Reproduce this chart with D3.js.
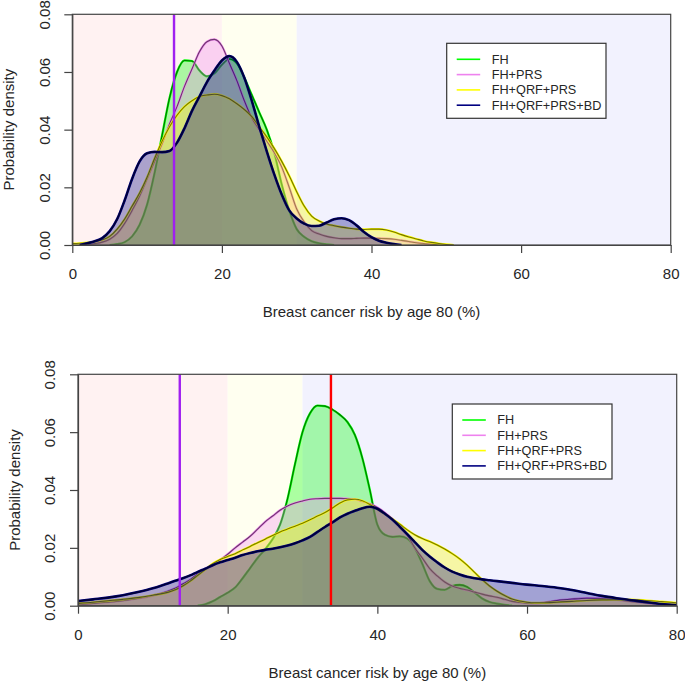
<!DOCTYPE html>
<html><head><meta charset="utf-8">
<script src="https://cdn.jsdelivr.net/npm/d3@7/dist/d3.min.js"></script>
<style>body{margin:0;background:#fff}svg{display:block}text{font-family:"Liberation Sans",Arial,sans-serif;fill:#262626}</style>
</head><body><svg id="c" width="685" height="681"></svg>
<script>
// ---------- data ----------
const seriesNames = ["FH","FH+PRS","FH+QRF+PRS","FH+QRF+PRS+BD"];
const seriesColors = ["#00FF00","#EE82EE","#FFFF00","#000080"];
const xTicks = [0,20,40,60,80];
const yTicks = [0,0.02,0.04,0.06,0.08];
const bands = [[0,20],[20,30],[30,80]];
const bandColors = ["#FFF2F2","#FFFFF0","#F2F2FE"];
const topVLines = [13.6];
const bottomVLines = [13.6, 33.8];
const vLineColors = ["#A020F0","#FF0000"];

const topFH = [[5,0],[6,0.0003],[7,0.001],[8,0.003],[9,0.007],[10,0.014],[11,0.025],[12,0.038],[13,0.051],[14,0.060],[15,0.064],[16,0.0638],[17,0.0605],[18,0.0585],[19,0.0595],[20,0.0625],[21,0.0645],[22,0.063],[23,0.058],[24,0.052],[25,0.046],[26,0.040],[27,0.032],[28,0.021],[29,0.012],[30,0.0055],[31,0.0028],[32,0.0013],[33,0.0006],[34,0.0002],[35,0]];
const topPRS = [[1,0],[2,0.0002],[3,0.0005],[4,0.001],[5,0.002],[6,0.004],[7,0.0075],[8,0.012],[9,0.017],[10,0.023],[11,0.029],[12,0.035],[13,0.042],[14,0.048],[15,0.055],[16,0.061],[17,0.067],[18,0.0705],[19,0.0713],[20,0.069],[21,0.063],[22,0.057],[23,0.050],[24,0.044],[25,0.040],[26,0.036],[27,0.032],[28,0.027],[29,0.020],[30,0.0125],[31,0.008],[32,0.005],[33,0.0038],[34,0.003],[35,0.0025],[36,0.0022],[37,0.0022],[38,0.0023],[39,0.0024],[40,0.0024],[41,0.0023],[42,0.0022],[43,0.002],[44,0.0016],[45,0.0012],[46,0.0008],[47,0.0005],[48,0.0003],[49,0.0001],[50,0]];
const topQRF = [[0,0.0005],[1,0.0006],[2,0.0008],[3,0.0012],[4,0.0018],[5,0.003],[6,0.0055],[7,0.009],[8,0.0135],[9,0.018],[10,0.0235],[11,0.030],[12,0.036],[13,0.041],[14,0.045],[15,0.048],[16,0.050],[17,0.0515],[18,0.052],[19,0.0523],[20,0.0518],[21,0.0507],[22,0.049],[23,0.047],[24,0.0445],[25,0.041],[26,0.0375],[27,0.0335],[28,0.029],[29,0.024],[30,0.0185],[31,0.0135],[32,0.010],[33,0.0083],[34,0.0073],[35,0.0067],[36,0.0062],[37,0.0058],[38,0.0055],[39,0.0054],[40,0.0055],[41,0.0055],[42,0.0052],[43,0.0045],[44,0.0036],[45,0.0028],[46,0.0021],[47,0.0014],[48,0.0009],[49,0.0005],[50,0.0002],[51,0]];
const topBD = [[1,0],[2,0.0006],[3,0.0013],[4,0.0024],[5,0.0048],[6,0.009],[7,0.0155],[8,0.023],[9,0.029],[10,0.0318],[11,0.0323],[12,0.0322],[13,0.0326],[14,0.0355],[15,0.0405],[16,0.0465],[17,0.0515],[18,0.0565],[19,0.0605],[20,0.064],[21,0.0655],[22,0.0635],[23,0.058],[24,0.050],[25,0.041],[26,0.0325],[27,0.0245],[28,0.0175],[29,0.012],[30,0.0092],[31,0.0074],[32,0.0066],[33,0.0067],[34,0.0078],[35,0.0089],[36,0.0093],[37,0.0086],[38,0.0068],[39,0.0045],[40,0.0027],[41,0.0015],[42,0.0008],[43,0.0003],[44,0]];

const botFH = [[16,0],[17,0.0005],[18,0.0015],[19,0.003],[20,0.0045],[21,0.0063],[22,0.0095],[23,0.013],[24,0.0165],[25,0.0195],[26,0.023],[27,0.028],[28,0.037],[29,0.049],[30,0.060],[31,0.0665],[32,0.0692],[33,0.069],[34,0.0678],[35,0.066],[36,0.0635],[37,0.059],[38,0.051],[39,0.040],[40,0.028],[41,0.0245],[42,0.0238],[43,0.024],[44,0.0232],[45,0.020],[46,0.0145],[47,0.0085],[48,0.0058],[49,0.0055],[50,0.0068],[51,0.0072],[52,0.0065],[53,0.0045],[54,0.0025],[55,0.0013],[56,0.0007],[57,0.0003],[58,0]];
const botPRS = [[0,0.0005],[2,0.0008],[4,0.0012],[6,0.0017],[8,0.0025],[10,0.0035],[12,0.005],[13,0.006],[14,0.0075],[15,0.009],[16,0.011],[17,0.0125],[18,0.014],[19,0.0158],[20,0.0178],[21,0.020],[22,0.022],[23,0.024],[24,0.0265],[25,0.029],[26,0.031],[27,0.033],[28,0.0345],[29,0.0355],[30,0.0362],[31,0.0368],[32,0.037],[33,0.0371],[34,0.0371],[35,0.0371],[36,0.037],[37,0.0368],[38,0.036],[39,0.0352],[40,0.034],[41,0.0322],[42,0.030],[43,0.0275],[44,0.0245],[45,0.020],[46,0.0165],[47,0.0128],[48,0.0103],[49,0.0082],[50,0.0068],[51,0.006],[52,0.0054],[53,0.0047],[54,0.004],[55,0.0034],[56,0.0029],[57,0.0022],[58,0.0015],[59,0.0011],[60,0.0009],[61,0.0008],[62,0.001],[63,0.0014],[64,0.0018],[66,0.0023],[68,0.0026],[70,0.0025],[72,0.002],[74,0.0014],[76,0.0009],[78,0.0005],[80,0.0003]];
const botQRF = [[0,0.0008],[2,0.0012],[4,0.0017],[6,0.0022],[8,0.0028],[10,0.0036],[12,0.0046],[13,0.0055],[14,0.0068],[15,0.0085],[16,0.0105],[17,0.0125],[18,0.0145],[19,0.016],[20,0.017],[21,0.018],[22,0.0193],[23,0.0205],[24,0.0218],[25,0.023],[26,0.0243],[27,0.0255],[28,0.0265],[29,0.0275],[30,0.0285],[31,0.0297],[32,0.031],[33,0.0322],[34,0.0338],[35,0.0355],[36,0.0366],[37,0.0368],[38,0.0363],[39,0.035],[40,0.0333],[41,0.0317],[42,0.030],[43,0.0282],[44,0.0262],[45,0.0245],[46,0.0232],[47,0.0222],[48,0.021],[49,0.0196],[50,0.018],[51,0.0162],[52,0.014],[53,0.0115],[54,0.009],[55,0.0068],[56,0.005],[57,0.0035],[58,0.0023],[59,0.0016],[60,0.0012],[61,0.001],[62,0.001],[64,0.0012],[66,0.0015],[68,0.0018],[70,0.002],[72,0.0021],[74,0.0021],[76,0.0018],[78,0.0014],[80,0.001]];
const botBD = [[0,0.0016],[2,0.0022],[4,0.0028],[6,0.0036],[8,0.0047],[10,0.006],[11,0.0068],[12,0.0077],[13,0.0086],[14,0.0095],[15,0.0105],[16,0.0117],[17,0.0128],[18,0.014],[19,0.015],[20,0.0158],[21,0.0166],[22,0.0175],[23,0.0182],[24,0.0188],[25,0.0193],[26,0.0197],[27,0.0202],[28,0.0208],[29,0.0216],[30,0.0226],[31,0.0238],[32,0.0255],[33,0.0272],[34,0.0288],[35,0.0305],[36,0.0318],[37,0.0328],[38,0.0337],[39,0.0342],[40,0.0335],[41,0.0318],[42,0.0298],[43,0.0273],[44,0.0247],[45,0.022],[46,0.0193],[47,0.017],[48,0.015],[49,0.0132],[50,0.0118],[51,0.0108],[52,0.01],[53,0.0095],[54,0.0091],[55,0.0088],[56,0.0085],[58,0.0079],[60,0.0073],[62,0.0068],[64,0.0062],[66,0.0054],[68,0.0044],[70,0.0034],[72,0.0026],[74,0.0019],[76,0.0012],[78,0.0006],[80,0.0002]];

// ---------- layout ----------
const fillAlpha = [0.33,0.3,0.35,0.33];
const panels = [
  {left:72.3,right:670.7,top:14.3,bottom:245,series:[topFH,topPRS,topQRF,topBD],vlines:topVLines,legend:{x:446.7,y:43.3,w:159.3,h:75}},
  {left:78,right:676.7,top:374.3,bottom:605.7,series:[botFH,botPRS,botQRF,botBD],vlines:bottomVLines,legend:{x:452.3,y:404,w:159.7,h:75}}
];

const svg = d3.select("#c");
panels.forEach((p,pi)=>{
  const x = d3.scaleLinear().domain([0,80]).range([p.left,p.right]);
  const y = d3.scaleLinear().domain([0,0.08]).range([p.bottom,p.top]);
  const g = svg.append("g");
  const cid = "clip"+pi;
  g.append("clipPath").attr("id",cid).append("rect")
    .attr("x",p.left).attr("y",p.top).attr("width",p.right-p.left).attr("height",p.bottom-p.top);
  const inner = g.append("g").attr("clip-path",`url(#${cid})`);
  bands.forEach((b,i)=>{
    inner.append("rect").attr("x",x(b[0])).attr("y",p.top).attr("width",x(b[1])-x(b[0])).attr("height",p.bottom-p.top).attr("fill",bandColors[i]);
  });
  const area = d3.area().x(d=>x(d[0])).y0(y(0)).y1(d=>y(d[1])).curve(d3.curveMonotoneX);
  const line = d3.line().x(d=>x(d[0])).y(d=>y(d[1])).curve(d3.curveMonotoneX);
  p.series.forEach((s,i)=>{
    const c = d3.rgb(seriesColors[i]);
    inner.append("path").attr("d",area(s)).attr("fill",`rgba(${c.r},${c.g},${c.b},${fillAlpha[i]})`).attr("stroke","none");
    inner.append("path").attr("d",line(s)).attr("fill","none").attr("stroke",seriesColors[i]).attr("stroke-width",i===3?2.6:2.2).attr("stroke-linejoin","round");
    inner.append("path").attr("d",line(s)).attr("fill","none").attr("stroke",i===3?"rgba(0,0,30,0.75)":"rgba(0,0,0,0.55)").attr("stroke-width",i===3?1.6:1.1).attr("stroke-linejoin","round");
  });
  p.vlines.forEach((v,i)=>{
    inner.append("line").attr("x1",x(v)).attr("x2",x(v)).attr("y1",p.top).attr("y2",p.bottom).attr("stroke",vLineColors[i]).attr("stroke-width",2.4);
  });
  // box
  g.append("rect").attr("x",p.left).attr("y",p.top).attr("width",p.right-p.left).attr("height",p.bottom-p.top).attr("fill","none").attr("stroke","#444").attr("stroke-width",1.2);
  // axes
  const ax = g.append("g").attr("transform",`translate(0,${p.bottom})`).call(d3.axisBottom(x).tickValues(xTicks).tickSize(8).tickSizeOuter(0).tickFormat(d3.format("d")));
  ax.selectAll("text").attr("y",29).attr("dy","0.35em").style("font-size","15px").style("font-family","Liberation Sans, Arial, sans-serif").attr("fill","#262626");
  const ay = g.append("g").attr("transform",`translate(${p.left},0)`).call(d3.axisLeft(y).tickValues(yTicks).tickSize(8).tickSizeOuter(0).tickFormat(d3.format(".2f")));
  ay.selectAll("text").attr("x",null).attr("dy","0.35em").attr("text-anchor","middle").attr("transform","translate(-28,0) rotate(-90)").style("font-size","15px").style("font-family","Liberation Sans, Arial, sans-serif").attr("fill","#262626");
  [ax,ay].forEach(a=>{a.selectAll("line,path").attr("stroke","#444").attr("stroke-width",1.2);});
  // titles
  g.append("text").attr("x",(p.left+p.right)/2).attr("y",p.bottom+67).attr("dy","0.35em").attr("text-anchor","middle").style("font-size","15px").text("Breast cancer risk by age 80 (%)");
  g.append("text").attr("transform",`translate(${p.left-63.5},${(p.top+p.bottom)/2}) rotate(-90)`).attr("dy","0.35em").attr("text-anchor","middle").style("font-size","15px").text("Probability density");
  // legend
  const L = p.legend;
  const lg = g.append("g");
  lg.append("rect").attr("x",L.x).attr("y",L.y).attr("width",L.w).attr("height",L.h).attr("fill","#fff").attr("stroke","#333").attr("stroke-width",1.2);
  seriesNames.forEach((n,i)=>{
    const yy = L.y+16+i*15.3;
    lg.append("line").attr("x1",L.x+10).attr("x2",L.x+33.5).attr("y1",yy).attr("y2",yy).attr("stroke",seriesColors[i]).attr("stroke-width",1.6);
    lg.append("text").attr("x",L.x+45).attr("y",yy).attr("dy","0.35em").style("font-size","12.7px").text(n);
  });
});
</script></body></html>
